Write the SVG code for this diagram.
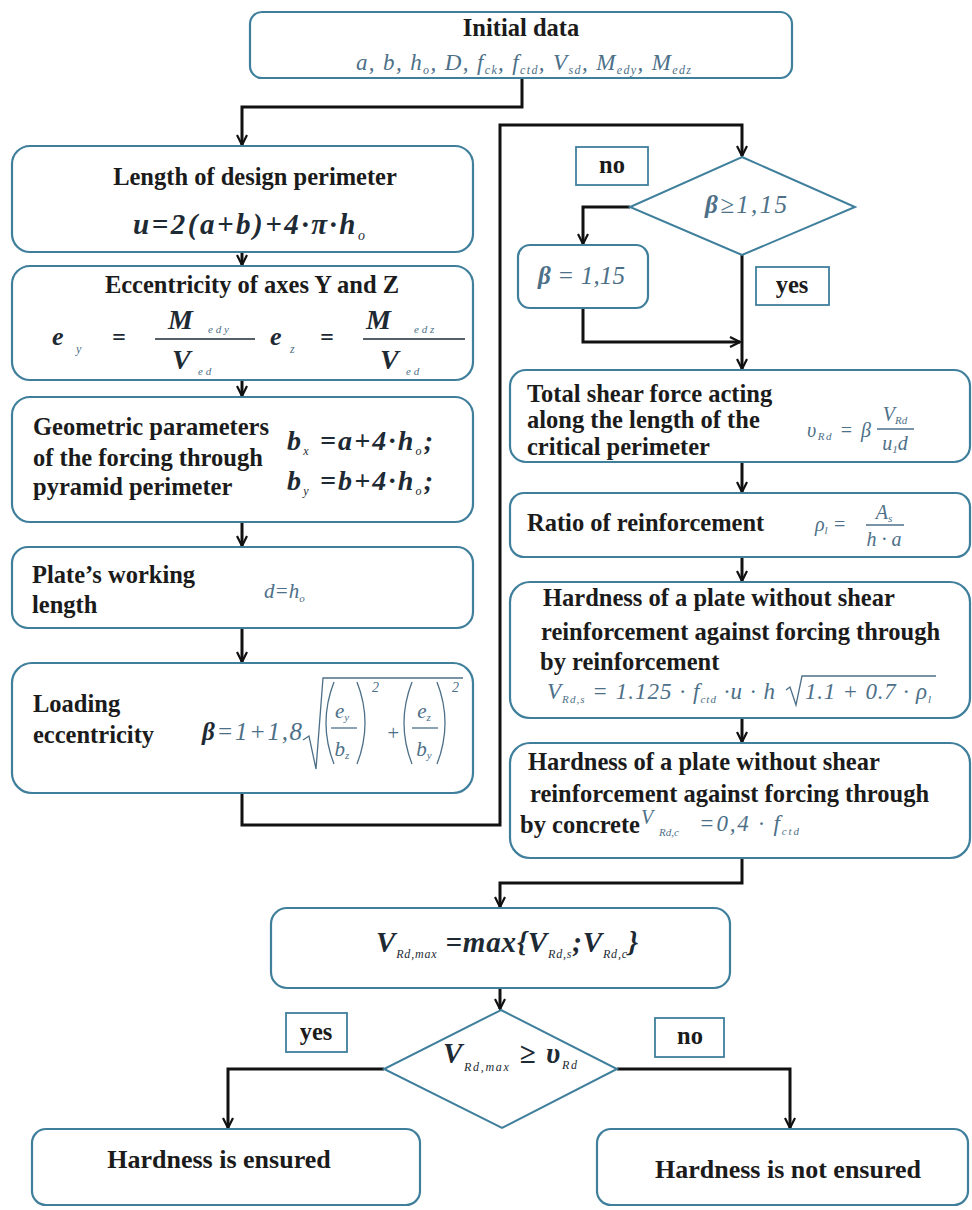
<svg xmlns="http://www.w3.org/2000/svg" width="972" height="1210" viewBox="0 0 972 1210">
<defs>
<marker id="ah" viewBox="0 0 12 12" refX="11" refY="6" markerWidth="12" markerHeight="12" markerUnits="userSpaceOnUse" orient="auto">
<path d="M1,1 L11,6 L1,11" fill="none" stroke="#111" stroke-width="2.2"/>
</marker>
<style>
.box{fill:#fff;stroke:#3f7f9c;stroke-width:2.2}
.lbl{fill:#fff;stroke:#3f7f9c;stroke-width:1.8}
.dia{fill:#fff;stroke:#3f7f9c;stroke-width:2}
.t{font-family:"Liberation Serif","Times New Roman",serif;font-weight:bold;font-size:24.5px;fill:#1b1b1b}
.tb{font-family:"Liberation Serif","Times New Roman",serif;font-weight:bold;font-size:26px;fill:#1b1b1b}
.fbi{font-family:"Liberation Serif","Times New Roman",serif;font-weight:bold;font-style:italic;fill:#1e2a33}
.fi{font-family:"Liberation Serif","Times New Roman",serif;font-style:italic;fill:#4d7088}
.con{fill:none;stroke:#111;stroke-width:3;marker-end:url(#ah)}
.ln{fill:none;stroke:#1e2a33;stroke-width:1.6}
.lnl{fill:none;stroke:#4d7088;stroke-width:1.3}
</style>
</defs>
<rect width="972" height="1210" fill="#fff"/>

<g id="connectors">
<path class="con" d="M522,78 V107 H242 V145"/>
<path class="con" d="M242,252 V265"/>
<path class="con" d="M242,380 V396"/>
<path class="con" d="M242,522 V546"/>
<path class="con" d="M242,628 V662"/>
<path class="con" d="M242,793 V825 H500 V125 H742 V156"/>
<path class="con" d="M630,207 H583 V244"/>
<path class="con" d="M583,308 V342 H740"/>
<path class="con" d="M742,255 V369"/>
<path class="con" d="M742,462 V492"/>
<path class="con" d="M742,557 V581"/>
<path class="con" d="M742,718 V742"/>
<path class="con" d="M742,858 V883 H500 V907"/>
<path class="con" d="M500,988 V1009"/>
<path class="con" d="M384,1069 H228 V1128"/>
<path class="con" d="M617,1069 H790 V1128"/>
</g>

<g id="initial">
<rect class="box" x="250" y="12" width="542" height="66" rx="12"/>
<text class="t" x="521" y="36" text-anchor="middle">Initial data</text>
<text class="fi" x="356" y="70" font-size="23" textLength="335" lengthAdjust="spacing">a, b, h<tspan font-size="12" dy="4">o</tspan><tspan dy="-4">, D, f</tspan><tspan font-size="12" dy="4">ck</tspan><tspan dy="-4">, f</tspan><tspan font-size="12" dy="4">ctd</tspan><tspan dy="-4">, V</tspan><tspan font-size="12" dy="4">sd</tspan><tspan dy="-4">, M</tspan><tspan font-size="12" dy="4">edy</tspan><tspan dy="-4">, M</tspan><tspan font-size="12" dy="4">edz</tspan></text>
</g>

<g id="perimeter">
<rect class="box" x="12" y="146" width="461" height="106" rx="18"/>
<text class="t" x="255" y="185" text-anchor="middle">Length of design perimeter</text>
<text class="fbi" x="133" y="234" font-size="29" textLength="232" lengthAdjust="spacing">u=2(a+b)+4·π·h<tspan font-size="14" dy="6" font-weight="normal">o</tspan></text>
</g>

<g id="eccentricity">
<rect class="box" x="12" y="266" width="461" height="114" rx="18"/>
<text class="t" x="252" y="293" text-anchor="middle">Eccentricity of axes Y and Z</text>
<text class="fbi" x="52" y="345" font-size="26">e</text>
<text class="fi" x="76" y="353" font-size="12">y</text>
<text class="fbi" x="112" y="345" font-size="24">=</text>
<line class="ln" x1="155" y1="339" x2="255" y2="339"/>
<text class="fbi" x="168" y="329" font-size="28">M</text>
<text class="fi" x="208" y="333" font-size="11">e d y</text>
<text class="fbi" x="172" y="369" font-size="28">V</text>
<text class="fi" x="198" y="375" font-size="11">e d</text>
<text class="fbi" x="270" y="345" font-size="26">e</text>
<text class="fi" x="290" y="353" font-size="12">z</text>
<text class="fbi" x="320" y="345" font-size="24">=</text>
<line class="ln" x1="363" y1="339" x2="465" y2="339"/>
<text class="fbi" x="366" y="329" font-size="28">M</text>
<text class="fi" x="414" y="333" font-size="11">e d z</text>
<text class="fbi" x="380" y="369" font-size="28">V</text>
<text class="fi" x="406" y="375" font-size="11">e d</text>
</g>

<g id="geometric">
<rect class="box" x="12" y="397" width="461" height="125" rx="18"/>
<text class="t" x="33" y="435">Geometric parameters</text>
<text class="t" x="33" y="466">of the forcing through</text>
<text class="t" x="33" y="495">pyramid perimeter</text>
<text class="fbi" x="287" y="450" font-size="28" textLength="146" lengthAdjust="spacing">b<tspan font-size="12" dy="5" font-weight="normal">x</tspan><tspan dy="-5"> =a+4·h</tspan><tspan font-size="12" dy="5" font-weight="normal">o</tspan><tspan dy="-5">;</tspan></text>
<text class="fbi" x="287" y="490" font-size="28" textLength="146" lengthAdjust="spacing">b<tspan font-size="12" dy="5" font-weight="normal">y</tspan><tspan dy="-5"> =b+4·h</tspan><tspan font-size="12" dy="5" font-weight="normal">o</tspan><tspan dy="-5">;</tspan></text>
</g>

<g id="working">
<rect class="box" x="12" y="547" width="461" height="81" rx="16"/>
<text class="t" x="32" y="583">Plate’s working</text>
<text class="t" x="32" y="613">length</text>
<text class="fi" x="264" y="598" font-size="21">d=h<tspan font-size="11" dy="4">o</tspan></text>
</g>

<g id="loading">
<rect class="box" x="12" y="663" width="461" height="130" rx="20"/>
<text class="t" x="33" y="712">Loading</text>
<text class="t" x="33" y="743">eccentricity</text>
<text class="fi" x="202" y="740" font-size="25" textLength="100" lengthAdjust="spacing"><tspan font-weight="bold" fill="#1e2a33">β</tspan>=1+1,8</text>
<path class="lnl" d="M303,740 L309,736 L316,769 L323,678 L463,678"/>
<path class="lnl" d="M334,682 Q318,723 334,764"/>
<text class="fi" x="342" y="718" font-size="21" text-anchor="middle">e<tspan font-size="11" dy="3">y</tspan></text>
<line class="lnl" x1="331" y1="728" x2="357" y2="728"/>
<text class="fi" x="342" y="756" font-size="21" text-anchor="middle">b<tspan font-size="11" dy="3">z</tspan></text>
<path class="lnl" d="M357,682 Q373,723 357,764"/>
<text class="fi" x="372" y="692" font-size="14">2</text>
<text class="fi" x="386" y="740" font-size="21">+</text>
<path class="lnl" d="M412,682 Q396,723 412,764"/>
<text class="fi" x="424" y="718" font-size="21" text-anchor="middle">e<tspan font-size="11" dy="3">z</tspan></text>
<line class="lnl" x1="412" y1="728" x2="438" y2="728"/>
<text class="fi" x="424" y="756" font-size="21" text-anchor="middle">b<tspan font-size="11" dy="3">y</tspan></text>
<path class="lnl" d="M437,682 Q453,723 437,764"/>
<text class="fi" x="452" y="692" font-size="14">2</text>
</g>

<g id="beta-check">
<polygon class="dia" points="742,157 855,207 742,255 630,207"/>
<text class="fi" x="705" y="213" font-size="25" textLength="82" lengthAdjust="spacing"><tspan font-weight="bold">β</tspan>≥1,15</text>
</g>

<g id="label-no-1">
<rect class="lbl" x="576" y="147" width="72" height="38"/>
<text class="t" x="612" y="173" text-anchor="middle" font-size="22">no</text>
</g>

<g id="beta-set">
<rect class="box" x="518" y="245" width="130" height="63" rx="12"/>
<text class="fi" x="538" y="284" font-size="25" textLength="87" lengthAdjust="spacing"><tspan font-weight="bold">β</tspan> = 1,15</text>
</g>

<g id="label-yes-1">
<rect class="lbl" x="756" y="267" width="73" height="38"/>
<text class="t" x="792" y="293" text-anchor="middle" font-size="22">yes</text>
</g>

<g id="total-shear">
<rect class="box" x="510" y="370" width="460" height="92" rx="16"/>
<text class="t" x="527" y="402">Total shear force acting</text>
<text class="t" x="527" y="428">along the length of the</text>
<text class="t" x="527" y="455">critical perimeter</text>
<text class="fi" x="807" y="437" font-size="20" textLength="64" lengthAdjust="spacing">υ<tspan font-size="11" dy="3">Rd</tspan><tspan dy="-3"> = β</tspan></text>
<text class="fi" x="895" y="421" font-size="20" text-anchor="middle">V<tspan font-size="11" dy="3">Rd</tspan></text>
<line class="lnl" x1="877" y1="429" x2="914" y2="429"/>
<text class="fi" x="895" y="450" font-size="20" text-anchor="middle">u<tspan font-size="11" dy="3">1</tspan><tspan dy="-3">d</tspan></text>
</g>

<g id="ratio">
<rect class="box" x="510" y="493" width="460" height="64" rx="14"/>
<text class="t" x="527" y="531">Ratio of reinforcement</text>
<text class="fi" x="815" y="531" font-size="20">ρ<tspan font-size="11" dy="3">l</tspan><tspan dy="-3"> =</tspan></text>
<text class="fi" x="884" y="519" font-size="20" text-anchor="middle">A<tspan font-size="11" dy="3">s</tspan></text>
<line class="lnl" x1="866" y1="525" x2="904" y2="525"/>
<text class="fi" x="884" y="546" font-size="20" text-anchor="middle">h · a</text>
</g>

<g id="hardness-s">
<rect class="box" x="510" y="582" width="460" height="136" rx="20"/>
<text class="t" x="543" y="606">Hardness of a plate without shear</text>
<text class="t" x="541" y="640">reinforcement against forcing through</text>
<text class="t" x="540" y="670">by reinforcement</text>
<text class="fi" x="547" y="699" font-size="23" textLength="228" lengthAdjust="spacing">V<tspan font-size="11" dy="4">Rd,s</tspan><tspan dy="-4"> = 1.125 · f</tspan><tspan font-size="11" dy="4">ctd</tspan><tspan dy="-4"> ·u · h</tspan></text>
<path class="lnl" d="M786,690 L790,687 L796,705 L802,676 L936,676"/>
<text class="fi" x="805" y="699" font-size="23" textLength="126" lengthAdjust="spacing">1.1 + 0.7 · ρ<tspan font-size="11" dy="4">l</tspan></text>
</g>

<g id="hardness-c">
<rect class="box" x="510" y="743" width="460" height="115" rx="20"/>
<text class="t" x="528" y="770">Hardness of a plate without shear</text>
<text class="t" x="530" y="802">reinforcement against forcing through</text>
<text class="t" x="520" y="833">by concrete</text>
<text class="fi" x="641" y="824" font-size="20">V</text>
<text class="fi" x="659" y="836" font-size="11">Rd,c</text>
<text class="fi" x="699" y="831" font-size="23" textLength="100" lengthAdjust="spacing">=0,4 · f<tspan font-size="11" dy="4">ctd</tspan></text>
</g>

<g id="vmax">
<rect class="box" x="271" y="908" width="459" height="80" rx="16"/>
<text class="fbi" x="376" y="952" font-size="29" textLength="262" lengthAdjust="spacing">V<tspan font-weight="normal" font-size="12" dy="6">Rd,max</tspan><tspan dy="-6"> =max{V</tspan><tspan font-weight="normal" font-size="12" dy="6">Rd,s</tspan><tspan dy="-6">;V</tspan><tspan font-weight="normal" font-size="12" dy="6">Rd,c</tspan><tspan dy="-6">}</tspan></text>
</g>

<g id="final-check">
<polygon class="dia" points="501,1010 617,1069 502,1128 384,1069"/>
<text class="fbi" x="443" y="1063" font-size="29" textLength="134" lengthAdjust="spacing">V<tspan font-weight="normal" font-size="12" dy="8">Rd,max</tspan><tspan dy="-8"> ≥ υ</tspan><tspan font-weight="normal" font-size="12" dy="6">Rd</tspan></text>
</g>

<g id="label-yes-2">
<rect class="lbl" x="286" y="1013" width="61" height="39"/>
<text class="t" x="316" y="1040" text-anchor="middle" font-size="22">yes</text>
</g>

<g id="label-no-2">
<rect class="lbl" x="655" y="1018" width="69" height="39"/>
<text class="t" x="690" y="1044" text-anchor="middle" font-size="22">no</text>
</g>

<g id="ensured">
<rect class="box" x="32" y="1129" width="388" height="76" rx="14"/>
<text class="tb" x="219" y="1168" text-anchor="middle">Hardness is ensured</text>
</g>

<g id="not-ensured">
<rect class="box" x="597" y="1129" width="371" height="76" rx="14"/>
<text class="tb" x="788" y="1178" text-anchor="middle">Hardness is not ensured</text>
</g>
</svg>
